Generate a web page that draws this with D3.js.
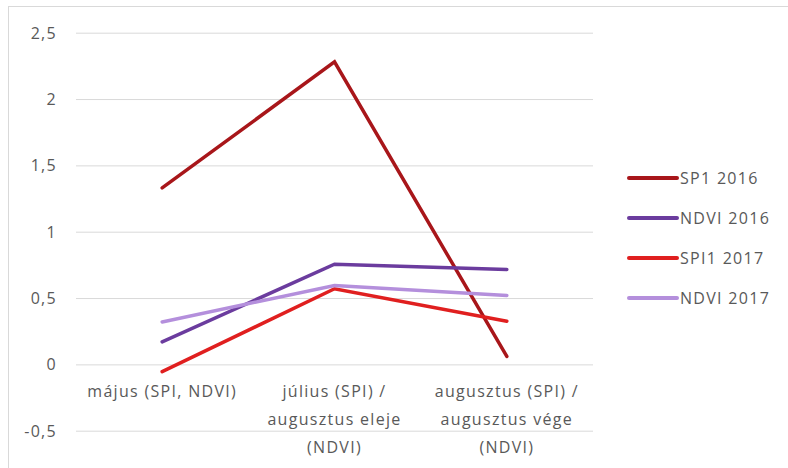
<!DOCTYPE html>
<html>
<head>
<meta charset="utf-8">
<script src="https://cdn.jsdelivr.net/npm/d3@7"></script>
<style>
  html, body { margin: 0; padding: 0; background: #fff; }
  svg { display: block; }
  text { font-family: "Open Sans", "Noto Sans", sans-serif; fill: #595959; letter-spacing: 1.3px; }
</style>
</head>
<body>
<svg id="chart" width="788" height="468"></svg>
<script>
// Categories (multi-line axis labels)
const categories = [
  ["május (SPI, NDVI)"],
  ["július (SPI) /", "augusztus eleje", "(NDVI)"],
  ["augusztus (SPI) /", "augusztus vége", "(NDVI)"]
];
const seriesNames = ["SP1 2016", "NDVI 2016", "SPI1 2017", "NDVI 2017"];
const sp1_2016  = [1.33, 2.28, 0.06];
const ndvi_2016 = [0.17, 0.755, 0.715];
const spi1_2017 = [-0.055, 0.57, 0.325];
const ndvi_2017 = [0.32, 0.595, 0.52];
const yTicks = [-0.5, 0, 0.5, 1, 1.5, 2, 2.5];
const colors = ["#a8161a", "#6b3c9e", "#e01f1f", "#b48fdc"];

const series = [sp1_2016, ndvi_2016, spi1_2017, ndvi_2017];

const svg = d3.select("#chart");

// Chart-area border
svg.append("rect")
  .attr("x", 8.5).attr("y", 6.5)
  .attr("width", 800).attr("height", 500)
  .attr("fill", "none").attr("stroke", "#d9d9d9").attr("stroke-width", 1);

const plot = { left: 76, right: 593, top: 32.7, bottom: 430.7 };

const x = d3.scaleBand()
  .domain(d3.range(categories.length))
  .range([plot.left, plot.right]);

const y = d3.scaleLinear()
  .domain([-0.5, 2.5])
  .range([plot.bottom, plot.top]);

// Gridlines and value labels
const yAxis = d3.axisLeft(y)
  .tickValues(yTicks)
  .tickSize(-(plot.right - plot.left))
  .tickPadding(19)
  .tickFormat(d => String(d).replace(".", ","));

const gy = svg.append("g")
  .attr("transform", `translate(${plot.left},0)`)
  .call(yAxis);
gy.select(".domain").remove();
gy.selectAll(".tick line").attr("stroke", "#d9d9d9").attr("stroke-width", 1);
gy.selectAll(".tick text")
  .attr("font-size", 16)
  .attr("fill", "#595959")
  .attr("dy", "0.35em")
  .style("font-family", "'Open Sans', sans-serif");

// Category labels
const gx = svg.append("g");
categories.forEach((lines, i) => {
  const t = gx.append("text")
    .attr("text-anchor", "middle")
    .attr("font-size", 16);
  lines.forEach((ln, j) => {
    t.append("tspan")
      .attr("x", x(i) + x.bandwidth() / 2)
      .attr("y", 397 + j * 28)
      .text(ln);
  });
});

// Series lines
const line = d3.line()
  .x((d, i) => x(i) + x.bandwidth() / 2)
  .y(d => y(d));

series.forEach((vals, k) => {
  svg.append("path")
    .datum(vals)
    .attr("d", line)
    .attr("fill", "none")
    .attr("stroke", colors[k])
    .attr("stroke-width", 3.5)
    .attr("stroke-linejoin", "miter")
    .attr("stroke-linecap", "round");
});

// Legend
const legend = svg.append("g");
seriesNames.forEach((name, k) => {
  const ly = 178 + k * 40;
  legend.append("line")
    .attr("x1", 629).attr("x2", 677)
    .attr("y1", ly).attr("y2", ly)
    .attr("stroke", colors[k]).attr("stroke-width", 4)
    .attr("stroke-linecap", "round");
  legend.append("text")
    .attr("x", 680).attr("y", ly)
    .attr("dy", "0.35em")
    .attr("font-size", 16)
    .text(name);
});
</script>
</body>
</html>
